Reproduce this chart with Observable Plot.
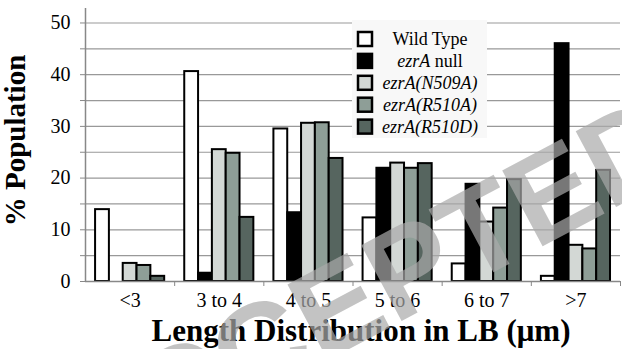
<!DOCTYPE html>
<html>
<head>
<meta charset="utf-8">
<script src="https://cdn.jsdelivr.net/npm/d3@7"></script>
<script src="https://cdn.jsdelivr.net/npm/@observablehq/plot@0.6"></script>
<style>
  html, body { margin: 0; padding: 0; background: white; }
  #wrap { position: relative; width: 622px; height: 349px; overflow: hidden; }
  .ovl { position: absolute; left: 0; top: 0; pointer-events: none; }
</style>
</head>
<body>
<div id="wrap"></div>
<script>
const categories = ["<3", "3 to 4", "4 to 5", "5 to 6", "6 to 7", ">7"];
const series = ["Wild Type", "ezrA null", "ezrA(N509A)", "ezrA(R510A)", "ezrA(R510D)"];
const wildType = [13.9, 40.6, 29.5, 12.3, 3.4, 1.0];
const ezrANull = [0, 1.6, 13.3, 21.9, 18.8, 46.0];
const n509a   = [3.5, 25.5, 30.6, 22.9, 11.5, 7.0];
const r510a   = [3.1, 24.8, 30.7, 21.9, 14.2, 6.3];
const r510d   = [1.0, 12.4, 23.8, 22.8, 19.7, 21.5];
const colors  = ["#ffffff", "#000000", "#d3d8d5", "#8e9e97", "#56655f"];
const yTicks  = d3.range(0, 55, 5);

const values = [wildType, ezrANull, n509a, r510a, r510d];
const rows = [];
categories.forEach((c, gi) => {
  series.forEach((s, si) => rows.push({cat: c, gi, si, series: s, value: values[si][gi]}));
});
const pad = 0.113, bw = 0.155;
const serif = "Liberation Serif";

const chart = Plot.plot({
  width: 622, height: 349,
  marginLeft: 85, marginRight: 2, marginTop: 8, marginBottom: 68,
  x: {domain: [0, 6], axis: null},
  y: {domain: [0, 52.8], axis: null},
  color: {domain: series, range: colors},
  style: {fontFamily: serif, fontSize: "20px", color: "black", background: "white", overflow: "visible"},
  marks: [
    Plot.ruleY(yTicks.filter(d => d > 0), {stroke: "#999", strokeWidth: 1.2}),
    Plot.rect(rows, {
      x1: d => d.gi + pad + d.si * bw,
      x2: d => d.gi + pad + (d.si + 1) * bw,
      y1: 0, y2: "value", fill: "series", stroke: "black", strokeWidth: 2
    }),
    Plot.ruleY([0], {stroke: "#888", strokeWidth: 1.5}),
    Plot.ruleX([0], {y1: 0, y2: 52.8, stroke: "#888", strokeWidth: 1.5}),
    Plot.axisY({ticks: yTicks, tickSize: 5, tickPadding: 10, stroke: "#888",
      tickFormat: d => d % 10 === 0 ? String(d) : "", label: null, fontSize: 20, fontFamily: serif, fill: "black"}),
    Plot.axisX({ticks: d3.range(1, 7), tickSize: 5, tickFormat: () => "", label: null, stroke: "#888"}),
    Plot.axisX({ticks: categories.map((c, i) => i + 0.5), tickSize: 0, tickPadding: 11,
      tickFormat: v => categories[Math.floor(v)], label: null, fontSize: 20, fontFamily: serif, fill: "black"}),
    Plot.text(["Length Distribution in LB (μm)"], {frameAnchor: "bottom", lineAnchor: "bottom", textAnchor: "middle",
      dx: 8, dy: 59, fontSize: 31, fontWeight: "bold", fontFamily: serif, fill: "black"}),
    Plot.text(["% Population"], {frameAnchor: "left", lineAnchor: "bottom", textAnchor: "middle", rotate: -90,
      dx: -61, dy: -4.5, fontSize: 29, fontWeight: "bold", fontFamily: serif, fill: "black"})
  ]
});

const wrap = document.getElementById("wrap");
wrap.appendChild(chart);

const ns = "http://www.w3.org/2000/svg";
function el(name, attrs, parent) {
  const e = document.createElementNS(ns, name);
  for (const k in attrs) e.setAttribute(k, attrs[k]);
  if (parent) parent.appendChild(e);
  return e;
}

// legend (overlay SVG inside the plot area)
const lg = el("svg", {class: "ovl", width: 622, height: 349});
el("rect", {x: 352, y: 20, width: 135, height: 118, fill: "#f8f8f8"}, lg);
const legendParts = [
  [["Wild Type", false]],
  [["ezrA", true], [" null", false]],
  [["ezrA(N509A)", true]],
  [["ezrA(R510A)", true]],
  [["ezrA(R510D)", true]]
];
series.forEach((s, i) => {
  const cy = 39 + i * 21.9;
  el("rect", {x: 358, y: cy - 7, width: 14, height: 14, fill: colors[i], stroke: "black", "stroke-width": 2.5}, lg);
  const tx = el("text", {x: 430, y: cy + 6, "text-anchor": "middle", "font-family": serif, "font-size": 18, fill: "black"}, lg);
  legendParts[i].forEach(([str, it]) => {
    const sp = el("tspan", it ? {"font-style": "italic"} : {}, tx);
    sp.textContent = str;
  });
});
wrap.appendChild(lg);

// watermark
const wm = el("svg", {class: "ovl", width: 622, height: 349});
const t = el("text", {transform: "translate(385,330) rotate(-28)", "text-anchor": "middle",
  "font-family": "Liberation Sans", "font-weight": "bold", "font-size": 125, fill: "#aaaaaa", "fill-opacity": 0.7}, wm);
t.textContent = "ACCEPTED";
wrap.appendChild(wm);
</script>
</body>
</html>
